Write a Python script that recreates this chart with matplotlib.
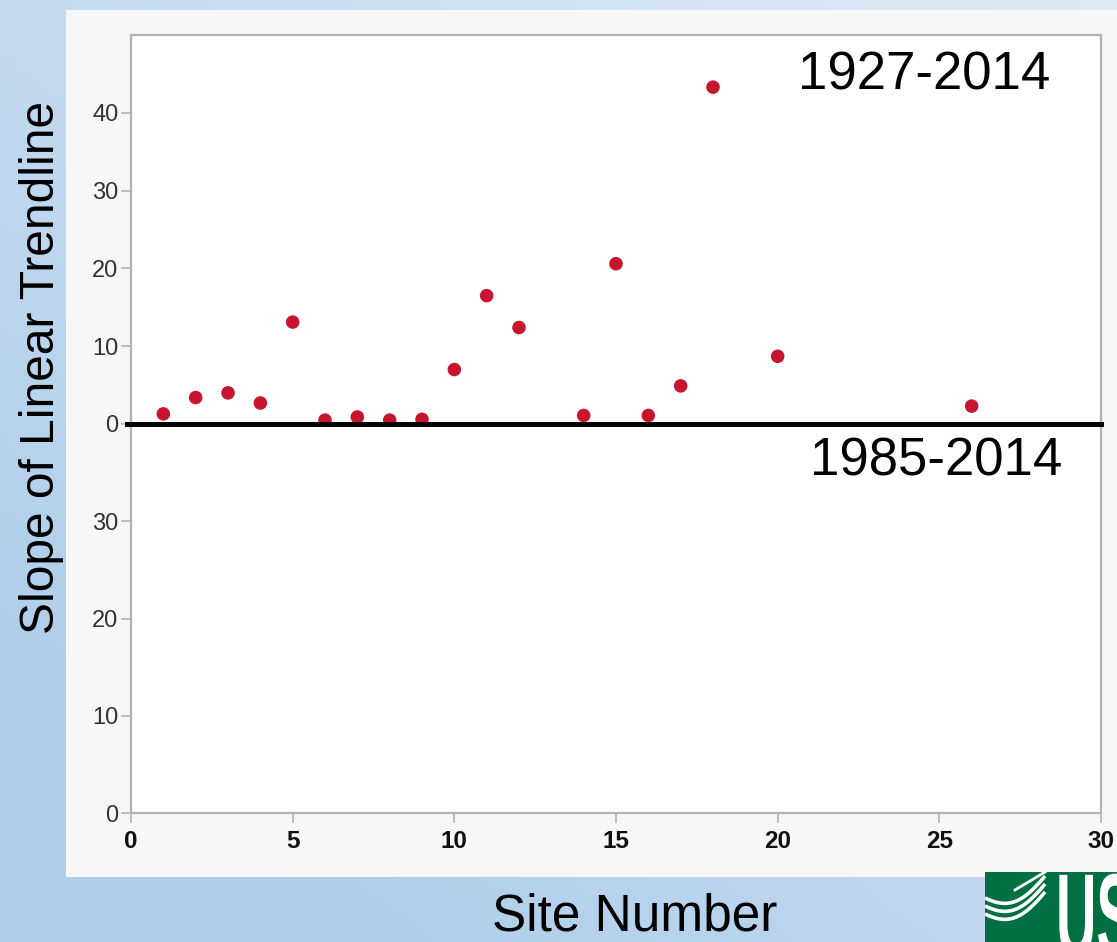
import numpy as np
import matplotlib
matplotlib.use("Agg")
import matplotlib.pyplot as plt
from matplotlib.patches import Rectangle, PathPatch
from matplotlib.textpath import TextPath
from matplotlib.font_manager import FontProperties
from matplotlib.transforms import Affine2D

# ---- data ----
site = [1, 2, 3, 4, 5, 6, 7, 8, 9, 10, 11, 12, 14, 15, 16, 17, 18, 20, 26]
slope_1927 = [1.3, 3.4, 4.0, 2.7, 13.1, 0.5, 0.9, 0.5, 0.6, 7.0, 16.5, 12.4,
              1.1, 20.6, 1.1, 4.9, 43.3, 8.7, 2.3]
top_yticks = [0, 10, 20, 30, 40]
bot_yticks = [0, 10, 20, 30]
xticks = [0, 5, 10, 15, 20, 25, 30]
label_top = "1927-2014"
label_bot = "1985-2014"

W, H = 1117, 942
fig = plt.figure(figsize=(W / 100, H / 100), dpi=100)

# background gradient
bg = fig.add_axes([0, 0, 1, 1], zorder=-10)
yy, xx = np.mgrid[0:1:200j, 0:1:200j]
t = np.clip(0.55 * (1 - xx) + 0.6 * yy, 0, 1)
c0 = np.array([0xde, 0xea, 0xf6]) / 255
c1 = np.array([0xae, 0xcd, 0xea]) / 255
img = c0[None, None, :] * (1 - t[..., None]) + c1[None, None, :] * t[..., None]
bg.imshow(img, extent=[0, 1, 0, 1], aspect="auto", origin="upper")
bg.set_xlim(0, 1); bg.set_ylim(0, 1)
bg.axis("off")

def fx(px): return px / W
def fy(py): return 1 - py / H

# panel
fig.patches.append(Rectangle((fx(66), fy(877)), fx(1117) - fx(66), fy(10) - fy(877),
                             transform=fig.transFigure, facecolor="#f7f7f7",
                             edgecolor="none", zorder=-5))

left, right = fx(131), fx(1101)
ax_bot = fig.add_axes([left, fy(813), right - left, fy(424) - fy(813)], zorder=1)
ax_top = fig.add_axes([left, fy(424), right - left, fy(35) - fy(424)], zorder=2)

spc = "#b3b3b3"
for ax in (ax_top, ax_bot):
    ax.set_xlim(0, 30)
    ax.set_facecolor("white")
    for s in ax.spines.values():
        s.set_color(spc)
        s.set_linewidth(1.6)
    ax.tick_params(axis="y", length=7, width=1.2, color=spc, labelsize=17,
                   labelcolor="#333333", pad=2)
    for lab in ax.get_yticklabels():
        lab.set_family("Liberation Sans")

ax_top.set_ylim(0, 50)
ax_top.spines["bottom"].set_visible(False)
ax_top.set_yticks(top_yticks)
ax_top.set_xticks([])

ax_bot.set_ylim(0, 40)
ax_bot.spines["top"].set_visible(False)
ax_bot.set_yticks(bot_yticks)
ax_bot.set_xticks(xticks)
ax_bot.tick_params(axis="x", length=7, width=1.2, color=spc, labelsize=17.5, pad=5)

for ax in (ax_top, ax_bot):
    for lab in ax.get_yticklabels():
        lab.set_family("Liberation Sans")
for lab in ax_bot.get_xticklabels():
    lab.set_family("Liberation Sans")
    lab.set_fontweight("bold")
    lab.set_color("#111111")

ax_top.scatter(site, slope_1927, s=95, color="#c8152e", edgecolors="none",
               zorder=3, clip_on=False)
ax_top.axhline(0, xmin=-0.004, xmax=1.0, color="black", lw=3.6, zorder=4,
               clip_on=False)

fig.text(fx(1050), fy(90), label_top, ha="right", va="baseline",
         family="Liberation Sans", fontsize=38, color="black")
fig.text(fx(1062), fy(476), label_bot, ha="right", va="baseline",
         family="Liberation Sans", fontsize=38, color="black")

fig.text(fx(42), fy(367), "Slope of Linear Trendline", rotation=90,
         ha="center", va="center", family="Liberation Sans", fontsize=34.5)
fig.text(fx(635), fy(917), "Site Number", ha="center", va="center",
         family="Liberation Sans", fontsize=37)

# USGS logo fragment
green = "#006f41"
lg = fig.add_axes([fx(985), fy(942), fx(1117) - fx(985), fy(872) - fy(942)], zorder=6)
lg.set_xlim(0, 132); lg.set_ylim(70, 0)
lg.set_facecolor(green)
for s in lg.spines.values():
    s.set_visible(False)
lg.set_xticks([]); lg.set_yticks([])
u = np.linspace(0, 1, 60)
for y0 in (26, 34, 42):
    xs = u * 60
    ys = y0 + 9 * np.sin(np.pi * u) - 22 * u ** 2
    lg.plot(xs, ys, color="white", lw=2.6, solid_capstyle="butt")
lg.plot([30, 60], [18, 0], color="white", lw=2.0)
fp = FontProperties(family="Liberation Sans", weight="bold")
tp = TextPath((0, 0), "US", size=1, prop=fp)
tr = Affine2D().scale(56, -118).translate(71, 84)
lg.add_patch(PathPatch(tr.transform_path(tp), facecolor="white", edgecolor="none"))

fig.savefig("out.png", dpi=100)
